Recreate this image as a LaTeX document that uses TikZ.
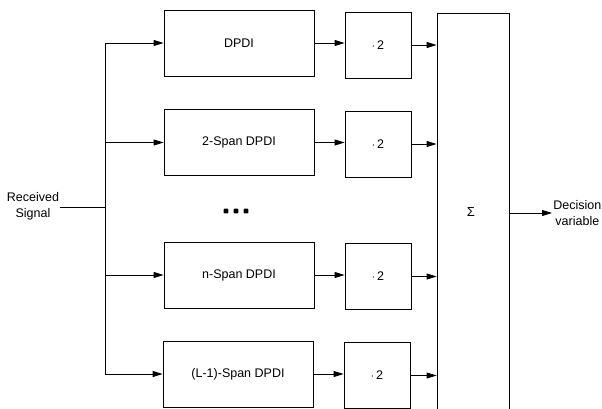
\documentclass[tikz,border=0pt]{standalone}
\usepackage{fontspec}
\setmainfont{Liberation Sans}
\usetikzlibrary{arrows.meta}
\begin{document}
\begin{tikzpicture}[x=1pt,y=-1pt,
  line width=0.8pt,
  every node/.style={font=\fontsize{12.5}{16}\selectfont},
  blk/.style={draw,rectangle,inner sep=0pt,minimum width=150pt,minimum height=66pt},
  mul/.style={draw,rectangle,inner sep=0pt,minimum width=66pt,minimum height=66pt},
  arr/.style={-{Triangle[length=10pt,width=6pt]}},
  dotmark/.style={rectangle,rounded corners=1pt,fill,inner sep=0pt,minimum size=4.8pt}]
\useasboundingbox (0,0) rectangle (602,408);
% DPDI blocks
\node[blk] (d1) at (239,43) {DPDI};
\node[blk] (d2) at (239,142.5) {2-Span DPDI};
\node[blk] (d3) at (239,275) {n-Span DPDI};
\node[blk] (d4) at (238,374) {(L-1)-Span DPDI};
% multiply blocks
\node[mul] (m1) at (378,45) {$\cdot$\,2};
\node[mul] (m2) at (378,144) {$\cdot$\,2};
\node[mul] (m3) at (378,276.5) {$\cdot$\,2};
\node[mul] (m4) at (377,375.5) {$\cdot$\,2};
% sum block
\node[draw,rectangle,inner sep=0pt,minimum width=72pt,minimum height=402pt] (S) at (473,214) {};
\node (sig) at (471,212) {\fontsize{13}{14}\selectfont Σ};
% dots
\node[dotmark] (e1) at (226,211) {};
\node[dotmark] (e2) at (236,211) {};
\node[dotmark] (e3) at (246,211) {};
% input / output labels
\node[align=center,inner sep=1pt] (rs) at (33,206) {Received\\Signal};
\node[align=center,anchor=west,inner sep=1pt] (dv) at (552,213) {Decision\\variable};
\coordinate (j) at (105,207);
% connectors
\draw (rs.east |- j) -- (j);
\draw (j |- d1.west) -- (j |- d4.west);
\foreach \i in {1,2,3,4}{
  \draw[arr] (j |- d\i.west) -- (d\i.west);
  \draw[arr] (d\i.east) -- (d\i.east -| m\i.west);
  \draw[arr] (m\i.east) -- (m\i.east -| S.west);
}
\draw[arr] (S.east |- dv.west) -- (dv.west);
\end{tikzpicture}
\end{document}
